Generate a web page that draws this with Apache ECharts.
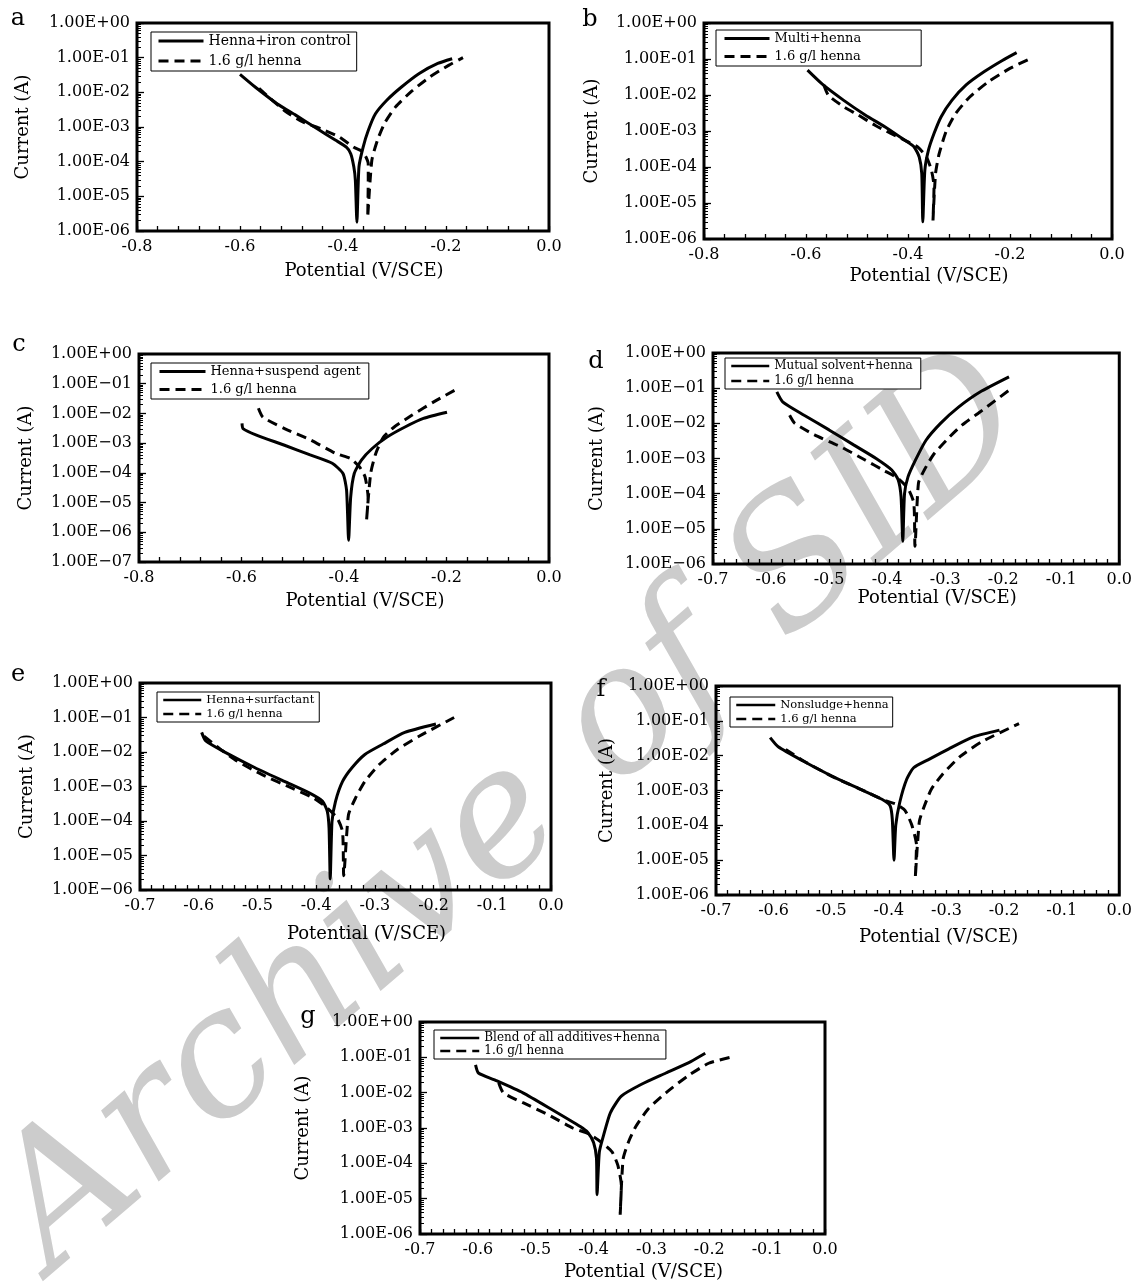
<!DOCTYPE html>
<html>
<head>
<meta charset="utf-8">
<script src="https://cdn.jsdelivr.net/npm/echarts@6/dist/echarts.min.js"></script>
<style>
  html, body { margin: 0; padding: 0; background: #fff; }
  #main { width: 1135px; height: 1284px; }
</style>
</head>
<body>
<div id="main"></div>
<script>
  // Tafel curves, [potential V/SCE, current A]
  // a: Henna+iron control
  const aSolid = [[-0.600,3.3e-2],[-0.570,1.4e-2],[-0.528,4.7e-3],[-0.492,2.2e-3],[-0.450,8.9e-4],[-0.415,4.2e-4],[-0.393,2.6e-4],[-0.385,1.7e-4],[-0.379,7.1e-5],[-0.376,2.9e-5],[-0.373,1.8e-6],[-0.369,7.1e-5],[-0.361,2.6e-4],[-0.351,7.9e-4],[-0.337,2.4e-3],[-0.315,5.9e-3],[-0.287,1.4e-2],[-0.252,3.5e-2],[-0.216,6.8e-2],[-0.188,9.3e-2]];
  const aDashed = [[-0.563,1.3e-2],[-0.514,3.0e-3],[-0.478,1.4e-3],[-0.443,8.9e-4],[-0.407,5.1e-4],[-0.379,2.6e-4],[-0.361,1.9e-4],[-0.351,8.7e-5],[-0.351,2.9e-5],[-0.352,2.5e-6],[-0.344,1.1e-4],[-0.333,4.2e-4],[-0.319,1.3e-3],[-0.298,3.8e-3],[-0.266,1.1e-2],[-0.231,2.8e-2],[-0.195,6.0e-2],[-0.167,1.0e-1]];
  // b: Multi+henna
  const bSolid = [[-0.597,4.9e-2],[-0.568,2.0e-2],[-0.526,7.1e-3],[-0.484,2.8e-3],[-0.441,1.2e-3],[-0.406,5.5e-4],[-0.388,3.6e-4],[-0.378,1.9e-4],[-0.373,6.5e-5],[-0.371,3.0e-6],[-0.367,8.1e-5],[-0.360,2.9e-4],[-0.349,8.5e-4],[-0.335,2.5e-3],[-0.314,7.1e-3],[-0.286,1.9e-2],[-0.251,4.4e-2],[-0.215,9.1e-2],[-0.187,1.5e-1]];
  const bDashed = [[-0.565,1.9e-2],[-0.556,9.8e-3],[-0.526,4.7e-3],[-0.498,2.8e-3],[-0.463,1.4e-3],[-0.406,5.5e-4],[-0.381,3.6e-4],[-0.364,1.9e-4],[-0.354,8.1e-5],[-0.349,2.8e-5],[-0.351,3.3e-6],[-0.346,6.5e-5],[-0.339,2.3e-4],[-0.325,1.0e-3],[-0.307,3.0e-3],[-0.279,8.8e-3],[-0.243,2.3e-2],[-0.201,5.4e-2],[-0.162,1.0e-1]];
  // c: Henna+suspend agent
  const cSolid = [[-0.599,4.6e-3],[-0.597,3.1e-3],[-0.572,1.9e-3],[-0.516,8.5e-4],[-0.466,4.0e-4],[-0.423,2.1e-4],[-0.402,9.5e-5],[-0.395,2.6e-5],[-0.391,5.4e-7],[-0.387,1.5e-5],[-0.380,9.5e-5],[-0.366,2.7e-4],[-0.345,6.6e-4],[-0.316,1.6e-3],[-0.281,3.5e-3],[-0.245,6.8e-3],[-0.199,1.1e-2]];
  const cDashed = [[-0.567,1.5e-2],[-0.558,7.4e-3],[-0.516,3.1e-3],[-0.466,1.3e-3],[-0.416,4.5e-4],[-0.387,3.0e-4],[-0.370,1.6e-4],[-0.359,7.4e-5],[-0.353,1.5e-5],[-0.356,2.5e-6],[-0.348,9.5e-5],[-0.338,4.5e-4],[-0.323,1.6e-3],[-0.302,3.5e-3],[-0.267,8.8e-3],[-0.224,2.5e-2],[-0.178,6.9e-2]];
  // d: Mutual solvent+henna
  const dSolid = [[-0.590,7.8e-2],[-0.580,4.1e-2],[-0.543,1.7e-2],[-0.500,6.5e-3],[-0.457,2.4e-3],[-0.419,1.0e-3],[-0.392,4.7e-4],[-0.381,2.5e-4],[-0.376,8.3e-5],[-0.373,4.4e-6],[-0.370,1.0e-4],[-0.364,3.0e-4],[-0.351,9.1e-4],[-0.333,3.3e-3],[-0.308,1.0e-2],[-0.277,2.9e-2],[-0.240,7.8e-2],[-0.190,2.1e-1]];
  const dDashed = [[-0.568,1.7e-2],[-0.559,1.0e-2],[-0.525,4.7e-3],[-0.481,2.2e-3],[-0.438,9.1e-4],[-0.407,4.7e-4],[-0.382,2.8e-4],[-0.364,1.4e-4],[-0.354,5.4e-5],[-0.352,3.2e-6],[-0.346,2.0e-4],[-0.336,4.7e-4],[-0.320,1.3e-3],[-0.298,3.3e-3],[-0.271,8.9e-3],[-0.240,2.1e-2],[-0.190,8.7e-2]];
  // e: Henna+surfactant
  const eSolid = [[-0.595,3.7e-2],[-0.588,2.1e-2],[-0.554,9.6e-3],[-0.504,3.5e-3],[-0.454,1.4e-3],[-0.411,6.4e-4],[-0.389,3.7e-4],[-0.381,1.9e-4],[-0.378,6.1e-5],[-0.376,2.1e-6],[-0.373,9.5e-5],[-0.367,3.7e-4],[-0.355,1.4e-3],[-0.339,3.5e-3],[-0.317,8.5e-3],[-0.286,1.7e-2],[-0.249,3.7e-2],[-0.196,6.5e-2]];
  const eDashed = [[-0.591,2.9e-2],[-0.560,1.1e-2],[-0.535,5.5e-3],[-0.492,2.2e-3],[-0.442,9.1e-4],[-0.404,4.6e-4],[-0.380,2.3e-4],[-0.364,1.2e-4],[-0.355,4.9e-5],[-0.353,2.6e-6],[-0.345,1.5e-4],[-0.333,4.6e-4],[-0.317,1.4e-3],[-0.292,4.4e-3],[-0.261,1.2e-2],[-0.224,2.9e-2],[-0.165,1.0e-1]];
  // f: Nonsludge+henna
  const fSolid = [[-0.606,3.3e-2],[-0.592,1.8e-2],[-0.548,6.9e-3],[-0.499,2.6e-3],[-0.450,1.1e-3],[-0.412,5.6e-4],[-0.398,3.7e-4],[-0.394,1.5e-4],[-0.391,1.0e-5],[-0.388,1.0e-4],[-0.381,4.6e-4],[-0.369,2.1e-3],[-0.357,4.5e-3],[-0.332,7.6e-3],[-0.295,1.6e-2],[-0.252,3.5e-2],[-0.208,5.4e-2]];
  const fDashed = [[-0.579,1.5e-2],[-0.542,6.2e-3],[-0.493,2.3e-3],[-0.443,9.8e-4],[-0.406,5.1e-4],[-0.388,4.1e-4],[-0.372,2.7e-4],[-0.360,1.0e-4],[-0.352,2.7e-5],[-0.354,3.2e-6],[-0.347,1.3e-4],[-0.338,3.7e-4],[-0.326,1.1e-3],[-0.307,2.9e-3],[-0.276,9.5e-3],[-0.239,2.5e-2],[-0.174,8.3e-2]];
  // g: Blend of all additives+henna
  const gSolid = [[-0.604,6.1e-2],[-0.599,3.6e-2],[-0.571,2.3e-2],[-0.522,9.9e-3],[-0.473,3.4e-3],[-0.423,1.1e-3],[-0.410,7.5e-4],[-0.400,3.9e-4],[-0.395,1.4e-4],[-0.394,1.3e-5],[-0.390,2.1e-4],[-0.383,6.0e-4],[-0.371,2.7e-3],[-0.352,8.0e-3],[-0.318,1.7e-2],[-0.275,3.6e-2],[-0.232,7.6e-2],[-0.207,1.3e-1]];
  const gDashed = [[-0.564,1.9e-2],[-0.556,9.9e-3],[-0.522,5.2e-3],[-0.479,2.4e-3],[-0.436,1.0e-3],[-0.408,6.8e-4],[-0.386,3.9e-4],[-0.368,2.1e-4],[-0.358,8.7e-5],[-0.352,2.4e-5],[-0.354,3.5e-6],[-0.349,1.3e-4],[-0.340,3.9e-4],[-0.327,1.1e-3],[-0.306,3.4e-3],[-0.275,9.9e-3],[-0.238,2.9e-2],[-0.201,6.8e-2],[-0.164,1.0e-1]];

  const solidNames = ['Henna+iron control', 'Multi+henna', 'Henna+suspend agent', 'Mutual solvent+henna',
    'Henna+surfactant', 'Nonsludge+henna', 'Blend of all additives+henna'];
  const dashedName = '1.6 g/l henna';
  const letters = ['a', 'b', 'c', 'd', 'e', 'f', 'g'];
  const solidData = [aSolid, bSolid, cSolid, dSolid, eSolid, fSolid, gSolid];
  const dashedData = [aDashed, bDashed, cDashed, dDashed, eDashed, fDashed, gDashed];

  // axis ranges and tick labels
  const xMins = [-0.8, -0.8, -0.8, -0.7, -0.7, -0.7, -0.7];
  const xSteps = [0.2, 0.2, 0.2, 0.1, 0.1, 0.1, 0.1];
  const yMins = [1e-6, 1e-6, 1e-7, 1e-6, 1e-6, 1e-6, 1e-6];
  const expMinus = ['-', '-', '\u2212', '\u2212', '\u2212', '-', '-'];

  // layout (px)
  const FONT = 'DejaVu Serif';
  const boxes = [
    { l: 137, t: 23, w: 412, h: 208 },
    { l: 704, t: 23, w: 408, h: 216 },
    { l: 139, t: 354, w: 410, h: 208 },
    { l: 713, t: 353, w: 407, h: 211 },
    { l: 140, t: 683, w: 411, h: 207 },
    { l: 716, t: 686, w: 408, h: 209 },
    { l: 420, t: 1022, w: 405, h: 212 }
  ];
  const xNameGaps = [31, 28, 30, 22, 35, 33, 29];
  const yNameGaps = [105, 103, 104, 107, 104, 100, 108];
  const legendBoxes = [
    { left: 151, top: 32, fs: 14, iw: 45, gap: 6, pad: [2, 6, 3, 6] },
    { left: 716, top: 30, fs: 13, iw: 45, gap: 5, pad: [2, 60, 3, 7] },
    { left: 151, top: 363, fs: 13, iw: 46, gap: 5, pad: [2, 8, 3, 7] },
    { left: 725, top: 358, fs: 12, iw: 38, gap: 3, pad: [2, 8, 2, 5] },
    { left: 157, top: 692, fs: 11.5, iw: 38, gap: 2, pad: [2, 5, 2, 5] },
    { left: 730, top: 697, fs: 11.5, iw: 39, gap: 2, pad: [2, 4, 2, 5] },
    { left: 434, top: 1030, fs: 12, iw: 39, gap: 1, pad: [2, 6, 2, 5] }
  ];
  const letterPos = [[18, 19], [590, 20], [19, 345], [596, 362], [18, 675], [601, 690], [308, 1017]];

  function expLabel(minus) {
    return function (v) {
      const e = Math.round(Math.log10(v));
      return '1.00E' + (e >= 0 ? '+' : minus) + String(Math.abs(e)).padStart(2, '0');
    };
  }

  const grid = [], xAxis = [], yAxis = [], series = [], legend = [], graphic = [];

  graphic.push({
    type: 'text', x: 515, y: 815, rotation: 0.71, z: -10,
    style: {
      text: 'Archive of SID', font: 'italic 176px "DejaVu Serif"',
      fill: '#cccccc', align: 'center', verticalAlign: 'middle'
    }
  });

  for (let i = 0; i < 7; i++) {
    const b = boxes[i];
    grid.push({
      left: b.l, top: b.t, width: b.w, height: b.h, show: true,
      borderColor: '#000', borderWidth: 3, backgroundColor: 'transparent'
    });
    xAxis.push({
      type: 'value', gridIndex: i, min: xMins[i], max: 0, interval: xSteps[i],
      axisLine: { show: false, onZero: false },
      axisTick: { inside: true, length: 5, lineStyle: { color: '#000', width: 1.3 } },
      minorTick: { show: true, splitNumber: 5, length: 5, lineStyle: { color: '#000', width: 1.3 } },
      splitLine: { show: false },
      axisLabel: {
        color: '#000', fontFamily: FONT, fontSize: 16, margin: 8,
        formatter: v => (Math.abs(v) < 1e-9 ? '0.0' : v.toFixed(1))
      },
      name: 'Potential (V/SCE)', nameLocation: 'middle', nameGap: xNameGaps[i],
      nameTextStyle: { color: '#000', fontFamily: FONT, fontSize: 18, padding: [0, 0, 0, 42] }
    });
    yAxis.push({
      type: 'log', logBase: 10, gridIndex: i, min: yMins[i], max: 1, position: 'left',
      axisLine: { show: false, onZero: false },
      axisTick: { inside: true, length: 7, lineStyle: { color: '#000', width: 1.3 } },
      minorTick: { show: true, splitNumber: 9, length: 4, lineStyle: { color: '#000', width: 1 } },
      splitLine: { show: false },
      axisLabel: { color: '#000', fontFamily: FONT, fontSize: 16, margin: 7, formatter: expLabel(expMinus[i]) },
      name: 'Current (A)', nameLocation: 'middle', nameGap: yNameGaps[i], nameRotate: 90,
      nameTextStyle: { color: '#000', fontFamily: FONT, fontSize: 18 }
    });
    series.push({
      type: 'line', name: solidNames[i], xAxisIndex: i, yAxisIndex: i,
      data: solidData[i], symbol: 'none', smooth: 0.2,
      lineStyle: { color: '#000', width: 3 }, itemStyle: { color: '#000' }
    });
    series.push({
      type: 'line', name: dashedName, xAxisIndex: i, yAxisIndex: i,
      data: dashedData[i], symbol: 'none', smooth: 0.2,
      lineStyle: { color: '#000', width: 3, type: [10, 6] }, itemStyle: { color: '#000' }
    });
    const lg = legendBoxes[i];
    legend.push({
      data: [solidNames[i], dashedName], orient: 'vertical',
      left: lg.left, top: lg.top, padding: lg.pad, itemGap: lg.gap,
      itemWidth: lg.iw, itemHeight: lg.fs, selectedMode: false,
      itemStyle: { opacity: 0 },
      lineStyle: { width: i < 3 ? 3 : 2.5 },
      borderColor: '#000', borderWidth: 1, backgroundColor: '#fff',
      textStyle: { color: '#000', fontFamily: FONT, fontSize: lg.fs }
    });
    graphic.push({
      type: 'text', x: letterPos[i][0], y: letterPos[i][1],
      style: { text: letters[i], font: '24px "DejaVu Serif"', fill: '#000', align: 'center', verticalAlign: 'middle' }
    });
  }

  const chart = echarts.init(document.getElementById('main'));
  chart.setOption({
    animation: false,
    backgroundColor: '#fff',
    grid, xAxis, yAxis, series, legend, graphic
  });
</script>
</body>
</html>
